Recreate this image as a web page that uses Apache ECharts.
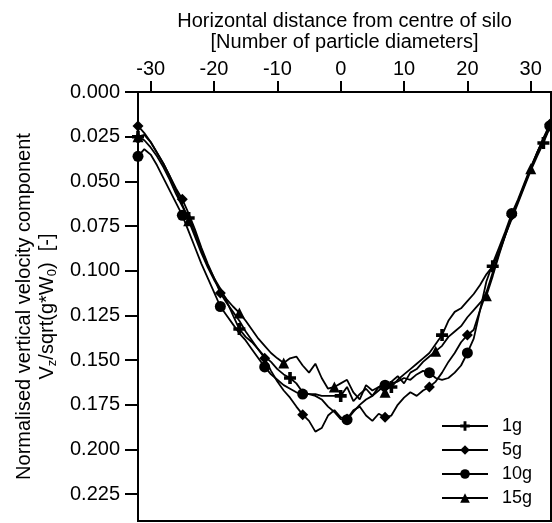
<!DOCTYPE html>
<html>
<head>
<meta charset="utf-8">
<script src="https://cdn.jsdelivr.net/npm/echarts@6/dist/echarts.min.js"></script>
<style>
html,body{margin:0;padding:0;background:#fff;}
#chart{width:552px;height:523px;}
</style>
</head>
<body>
<div id="chart"></div>
<script>
// Horizontal distance (particle diameters)
var xs = [-32,-31,-30,-29,-28,-27,-26,-25,-24,-23,-22,-21,-20,-19,-18,-17,-16,-15,-14,-13,-12,-11,-10,-9,-8,-7,-6,-5,-4,-3,-2,-1,0,1,2,3,4,5,6,7,8,9,10,11,12,13,14,15,16,17,18,19,20,21,22,23,24,25,26,27,28,29,30,31,32,33];

var names = ['1g','5g','10g','15g'];

var v1g = [0.025,0.027,0.031,0.036,0.042,0.049,0.057,0.064,0.0705,0.079,0.088,0.097,0.104,0.110,0.117,0.125,0.1326,0.137,0.140,0.144,0.148,0.151,0.155,0.158,0.160,0.163,0.168,0.169,0.169,0.170,0.170,0.170,0.170,0.165,0.173,0.169,0.166,0.170,0.165,0.163,0.165,0.161,0.158,0.155,0.152,0.149,0.146,0.141,0.136,0.128,0.123,0.121,0.117,0.113,0.108,0.102,0.0975,0.089,0.080,0.071,0.062,0.053,0.044,0.036,0.0285,0.020];

var v5g = [0.019,0.023,0.028,0.034,0.040,0.047,0.054,0.060,0.068,0.077,0.087,0.096,0.104,0.1124,0.118,0.123,0.128,0.134,0.139,0.144,0.149,0.156,0.162,0.167,0.171,0.176,0.1805,0.184,0.190,0.188,0.181,0.178,0.182,0.183,0.178,0.176,0.181,0.184,0.180,0.182,0.181,0.175,0.171,0.168,0.170,0.167,0.165,0.162,0.157,0.151,0.146,0.140,0.136,0.133,0.122,0.112,0.101,0.090,0.080,0.069,0.061,0.052,0.043,0.034,0.026,0.018];

var v10g = [0.036,0.032,0.035,0.041,0.048,0.055,0.062,0.069,0.078,0.087,0.096,0.104,0.112,0.120,0.125,0.130,0.135,0.139,0.144,0.149,0.1538,0.158,0.161,0.164,0.166,0.168,0.169,0.169,0.170,0.172,0.176,0.179,0.183,0.1833,0.179,0.175,0.172,0.170,0.167,0.164,0.163,0.162,0.160,0.161,0.158,0.156,0.157,0.160,0.161,0.160,0.157,0.153,0.146,0.138,0.122,0.106,0.096,0.087,0.078,0.068,0.060,0.051,0.042,0.034,0.026,0.019];

var v15g = [0.025,0.024,0.028,0.034,0.040,0.047,0.055,0.063,0.072,0.081,0.090,0.098,0.105,0.111,0.116,0.120,0.1236,0.128,0.133,0.138,0.142,0.146,0.149,0.1516,0.149,0.148,0.153,0.157,0.152,0.160,0.166,0.165,0.163,0.161,0.168,0.172,0.164,0.167,0.165,0.168,0.162,0.159,0.163,0.157,0.155,0.151,0.148,0.145,0.142,0.137,0.134,0.131,0.126,0.122,0.118,0.114,0.103,0.091,0.080,0.070,0.061,0.052,0.043,0.034,0.027,0.020];

var xTicks = [-30,-20,-10,0,10,20,30];
var yTicks = [0,0.025,0.05,0.075,0.1,0.125,0.15,0.175,0.2,0.225];

var seriesValues = [v1g, v5g, v10g, v15g];

var plusPath = 'path://M3.5,0H6.5V3.5H10V6.5H6.5V10H3.5V6.5H0V3.5H3.5Z';
var symbols = [plusPath, 'diamond', 'circle', 'triangle'];
var symSizes = [12, 11, 11, 11];
var markEvery = [8, 6.5, 6.5, 7.8];

function isMarker(i, step) {
  for (var k = 0; k * step <= i + 1; k++) {
    if (Math.round(k * step) === i) return true;
  }
  return false;
}

var series = names.map(function (n, s) {
  var vals = seriesValues[s];
  var data = xs.map(function (x, i) {
    var item = { value: [x, vals[i]] };
    if (!isMarker(i, markEvery[s])) item.symbol = 'none';
    return item;
  });
  return {
    name: n,
    type: 'line',
    data: data,
    symbol: symbols[s],
    symbolSize: symSizes[s],
    showAllSymbol: true,
    lineStyle: { color: '#000', width: 1.8 },
    itemStyle: { color: '#000' },
    animation: false,
    z: 2
  };
});

var font = 'Liberation Sans, Arial, sans-serif';

var chart = echarts.init(document.getElementById('chart'), null, { renderer: 'canvas' });
chart.setOption({
  backgroundColor: '#fff',
  animation: false,
  grid: {
    left: 138, top: 92, right: 1, bottom: 2,
    show: true, borderColor: '#000', borderWidth: 2, backgroundColor: 'transparent'
  },
  legend: {
    orient: 'vertical',
    left: 441, top: 417,
    padding: 0,
    itemWidth: 46, itemHeight: 12, itemGap: 6,
    textStyle: { fontFamily: font, fontSize: 18, color: '#000', padding: [0, 0, 0, 9] },
    data: names
  },
  xAxis: {
    type: 'value',
    position: 'top',
    min: -32, max: 33.2,
    name: 'Horizontal distance from centre of silo\n[Number of particle diameters]',
    nameLocation: 'middle',
    nameGap: 39,
    nameTextStyle: { fontFamily: font, fontSize: 20, color: '#000', lineHeight: 21 },
    axisLine: { show: true, onZero: false, lineStyle: { color: '#000', width: 2 } },
    axisTick: { show: true, length: 11, lineStyle: { color: '#000', width: 2 }, customValues: xTicks },
    axisLabel: { fontFamily: font, fontSize: 20, color: '#000', margin: 13, customValues: xTicks },
    splitLine: { show: false }
  },
  yAxis: {
    type: 'value',
    inverse: true,
    min: 0, max: 0.24,
    name: 'Normalised vertical velocity component\nV{sub|z}/sqrt(g*W{sub|0})  [-]',
    nameLocation: 'middle',
    nameGap: 79,
    nameTextStyle: {
      fontFamily: font, fontSize: 20, color: '#000', lineHeight: 23,
      rich: { sub: { fontFamily: font, fontSize: 13, color: '#000', verticalAlign: 'bottom' } }
    },
    axisLine: { show: true, onZero: false, lineStyle: { color: '#000', width: 2 } },
    axisTick: { show: true, length: 13, lineStyle: { color: '#000', width: 2 }, customValues: yTicks },
    axisLabel: {
      fontFamily: font, fontSize: 20, color: '#000', margin: 18, customValues: yTicks,
      formatter: function (v) { return v.toFixed(3); }
    },
    splitLine: { show: false }
  },
  series: series
});
</script>
</body>
</html>
